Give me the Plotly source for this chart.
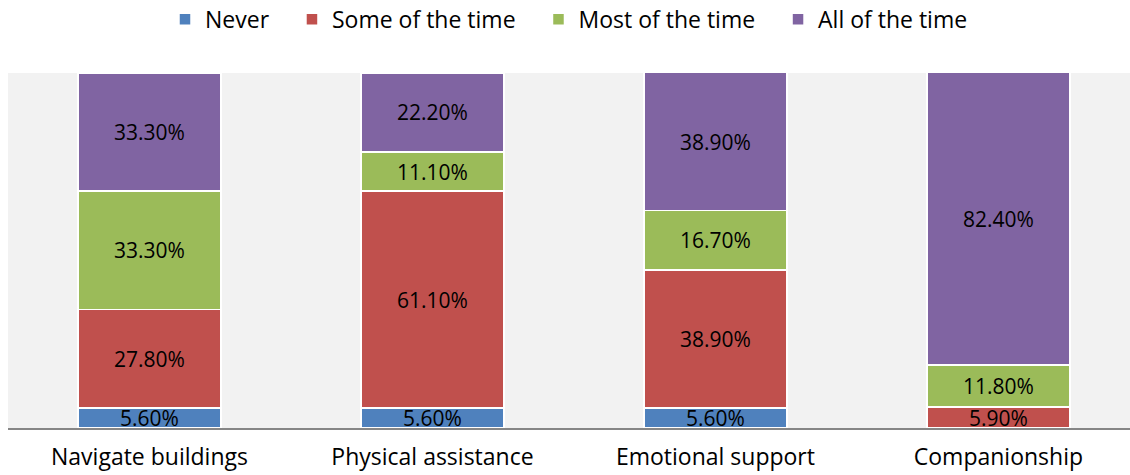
import plotly.graph_objects as go

categories = ["Navigate buildings", "Physical assistance", "Emotional support", "Companionship"]
series_names = ["Never", "Some of the time", "Most of the time", "All of the time"]
never = [5.6, 5.6, 5.6, 0.0]
some_of_the_time = [27.8, 61.1, 38.9, 5.9]
most_of_the_time = [33.3, 11.1, 16.7, 11.8]
all_of_the_time = [33.3, 22.2, 38.9, 82.4]

series_values = [never, some_of_the_time, most_of_the_time, all_of_the_time]
colors = ["#4f81bd", "#c0504d", "#9bbb59", "#8064a2"]

FONT = "Open Sans, sans-serif"
PAD = "\u00a0" * 3  # extra room between legend entries

fig = go.Figure()
for i, (name, vals, col) in enumerate(zip(series_names, series_values, colors)):
    fig.add_trace(go.Bar(
        name=name + (PAD if i < len(series_names) - 1 else ""),
        x=categories,
        y=vals,
        marker=dict(color=col, line=dict(color="white", width=1.5)),
        text=[f"{v:.2f}%" if v > 0 else "" for v in vals],
        textposition="inside",
        insidetextanchor="middle",
        textfont=dict(color="black", size=21, family=FONT),
        width=0.505,
        hoverinfo="skip",
    ))

fig.update_layout(
    barmode="stack",
    width=1130,
    height=475,
    margin=dict(l=8, r=0, t=73, b=47, autoexpand=False),
    paper_bgcolor="white",
    plot_bgcolor="#f2f2f2",
    font=dict(family=FONT, size=23, color="black"),
    uniformtext=dict(minsize=21, mode="show"),
    showlegend=True,
    legend=dict(
        orientation="h",
        x=0.5, xanchor="center",
        y=1.212, yanchor="top",
        font=dict(size=23, family=FONT),
        itemwidth=30,
        traceorder="normal",
    ),
    xaxis=dict(
        range=[-0.5, 3.465],
        automargin=False,
        showgrid=False,
        showline=True,
        linecolor="#868686",
        linewidth=2,
        ticks="outside",
        ticklen=7,
        tickcolor="rgba(0,0,0,0)",
        tickfont=dict(size=23, family=FONT),
        zeroline=False,
        fixedrange=True,
    ),
    yaxis=dict(
        range=[0, 100],
        automargin=False,
        showgrid=False,
        showticklabels=False,
        zeroline=False,
        showline=False,
        fixedrange=True,
    ),
)

fig.write_html("out.html")
